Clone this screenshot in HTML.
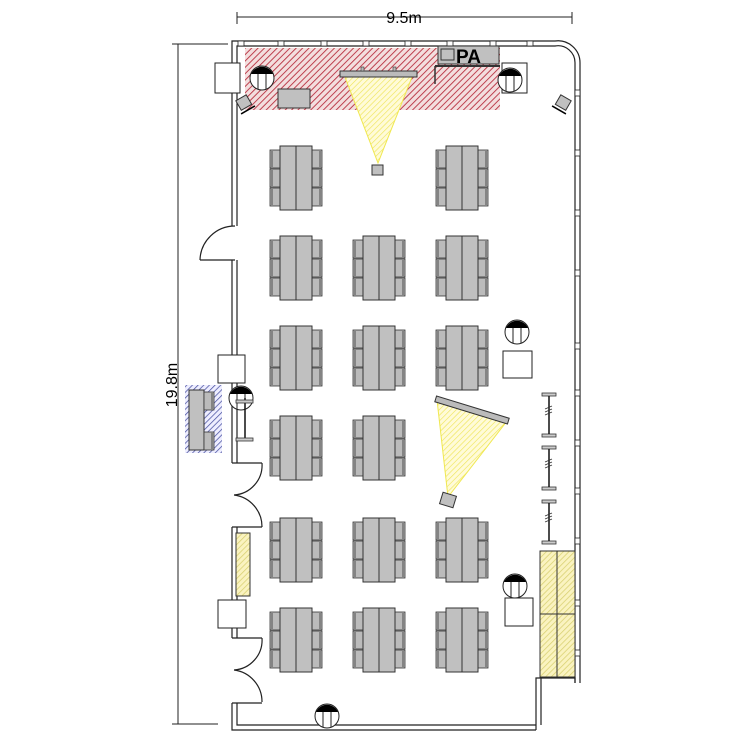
<!DOCTYPE html>
<html><head><meta charset="utf-8"><style>body{margin:0;background:#fff}svg{display:block}</style></head>
<body>
<svg width="750" height="750" viewBox="0 0 750 750" xmlns="http://www.w3.org/2000/svg" font-family="Liberation Sans, sans-serif">
<defs>
<pattern id="red" width="4.5" height="4.5" patternUnits="userSpaceOnUse" patternTransform="rotate(45)"><rect width="4.5" height="4.5" fill="#f3dede"/><line x1="0" y1="0" x2="0" y2="4.5" stroke="#b83040" stroke-width="1.8"/></pattern>
<pattern id="yel" width="4" height="4" patternUnits="userSpaceOnUse" patternTransform="rotate(45)"><rect width="4" height="4" fill="#faf3c0"/><line x1="0" y1="0" x2="0" y2="4" stroke="#d8d070" stroke-width="1.5"/></pattern>
<pattern id="ylite" width="4" height="4" patternUnits="userSpaceOnUse" patternTransform="rotate(45)"><rect width="4" height="4" fill="#fffbd8"/><line x1="0" y1="0" x2="0" y2="4" stroke="#eee450" stroke-width="1.2"/></pattern>
<pattern id="blue" width="4" height="4" patternUnits="userSpaceOnUse" patternTransform="rotate(45)"><rect width="4" height="4" fill="#eef"/><line x1="0" y1="0" x2="0" y2="4" stroke="#4850a0" stroke-width="1.5"/></pattern>
<g id="chairL"><rect x="0" y="0" width="10" height="18" fill="#bbb" stroke="#333" stroke-width="0.8"/><line x1="2" y1="1" x2="2" y2="17" stroke="#333" stroke-width="0.8"/></g>
<g id="chairR"><rect x="0" y="0" width="10" height="18" fill="#bbb" stroke="#333" stroke-width="0.8"/><line x1="8" y1="1" x2="8" y2="17" stroke="#333" stroke-width="0.8"/></g>
<g id="tbl">
<use href="#chairL" x="-10" y="4"/><use href="#chairL" x="-10" y="23"/><use href="#chairL" x="-10" y="42"/>
<use href="#chairR" x="32" y="4"/><use href="#chairR" x="32" y="23"/><use href="#chairR" x="32" y="42"/>
<rect x="0" y="0" width="32" height="64" fill="#c0c0c0" stroke="#333"/><line x1="16" y1="0" x2="16" y2="64" stroke="#333"/>
</g>
<g id="lamp"><circle r="12" fill="#fff" stroke="#222"/><path d="M-11,-4 A12,12 0 0 1 11,-4 Z" fill="#000"/><line x1="-4" y1="-4" x2="-4" y2="11" stroke="#222"/><line x1="4" y1="-4" x2="4" y2="11" stroke="#222"/></g>
<g id="ibeam"><rect x="-7" y="0" width="14" height="3" fill="#ccc" stroke="#333" stroke-width="0.8"/><rect x="-7" y="41" width="14" height="3" fill="#ccc" stroke="#333" stroke-width="0.8"/><line x1="0" y1="3" x2="0" y2="41" stroke="#111" stroke-width="1.5"/><path d="M-4,16 l7,-3 M-4,19 l7,-3 M-4,22 l7,-3" stroke="#333" stroke-width="0.8"/></g>
</defs>

<line x1="237" y1="17" x2="572" y2="17" stroke="#222"/>
<line x1="237" y1="12" x2="237" y2="24" stroke="#222"/><line x1="572" y1="12" x2="572" y2="24" stroke="#222"/>
<text x="404" y="23" font-size="16" text-anchor="middle">9.5m</text>
<line x1="178" y1="44" x2="178" y2="724" stroke="#222"/>
<line x1="172" y1="44" x2="228" y2="44" stroke="#222"/><line x1="172" y1="724" x2="218" y2="724" stroke="#222"/>
<text transform="translate(177,385) rotate(-90)" font-size="16" text-anchor="middle">19.8m</text>

<rect x="245" y="48" width="255" height="62" fill="url(#red)"/>

<g fill="none" stroke="#222" stroke-width="1.2">
<path d="M232,226 V41 H555 A22,22 0 0 1 580,63 V683"/>
<path d="M237,226 V46 H555 A17,17 0 0 1 575,63 V683"/>
<path d="M232,260 V463 M237,260 V463"/>
<path d="M232,527 V638 M237,527 V638"/>
<path d="M232,703 V730 H536 M237,703 V725 H536"/>
<path d="M536,730 V678 H575 V683"/>
<path d="M541,725 V678"/>
</g>
<g fill="#fff" stroke="#222" stroke-width="0.8">
<rect x="238" y="41" width="6" height="5"/><rect x="278" y="41" width="6" height="5"/><rect x="321" y="41" width="6" height="5"/><rect x="363" y="41" width="6" height="5"/><rect x="405" y="41" width="6" height="5"/><rect x="447" y="41" width="6" height="5"/><rect x="490" y="41" width="6" height="5"/><rect x="527" y="41" width="6" height="5"/>
<rect x="575" y="90" width="5" height="6"/><rect x="575" y="150" width="5" height="6"/><rect x="575" y="210" width="5" height="6"/><rect x="575" y="270" width="5" height="6"/><rect x="575" y="343" width="5" height="6"/><rect x="575" y="390" width="5" height="6"/><rect x="575" y="440" width="5" height="6"/><rect x="575" y="488" width="5" height="6"/><rect x="575" y="538" width="5" height="6"/><rect x="575" y="600" width="5" height="6"/><rect x="575" y="650" width="5" height="6"/>
</g>
<g fill="none" stroke="#222" stroke-width="1.2">
<path d="M200,260 H235 M200,260 A35,35 0 0 1 235,226"/>
<path d="M232,463 H262 M262,463 A30,30 0 0 1 234,495 M234,495 A32,32 0 0 1 262,527 M232,527 H262"/>
<path d="M232,638 H262 M262,638 A30,30 0 0 1 234,670 M234,670 A32,32 0 0 1 262,702 M232,703 H262"/>
</g>
<g fill="#fff" stroke="#222">
<rect x="215" y="63" width="25" height="30"/>
<rect x="218" y="355" width="27" height="28"/>
<rect x="218" y="600" width="28" height="28"/>
<rect x="502" y="63" width="25" height="30"/>
</g>
<rect x="236" y="533" width="14" height="63" fill="url(#yel)" stroke="#333"/>

<rect x="185" y="385" width="37" height="68" fill="url(#blue)"/>
<rect x="189" y="390" width="15" height="60" fill="#c0c0c0" stroke="#333"/>
<use href="#chairR" x="204" y="392"/><use href="#chairR" x="204" y="432" />

<rect x="278" y="89" width="32" height="19" fill="#c0c0c0" stroke="#333"/>
<rect x="438" y="46" width="61" height="18" fill="#c0c0c0" stroke="#333"/>
<rect x="441" y="49" width="13" height="11" fill="#c0c0c0" stroke="#333"/>
<text x="456" y="63" font-size="19" font-weight="bold">PA</text>
<line x1="435" y1="66" x2="500" y2="66" stroke="#333" stroke-width="2"/>
<line x1="435" y1="66" x2="435" y2="84" stroke="#333" stroke-width="1.5"/>
<polygon points="345,77 412,77 378,163" fill="url(#ylite)" stroke="#f0e850"/>
<rect x="340" y="71" width="77" height="6" fill="#bbb" stroke="#333"/>
<rect x="361" y="67" width="3" height="4" fill="#bbb" stroke="#333" stroke-width="0.6"/><rect x="393" y="67" width="3" height="4" fill="#bbb" stroke="#333" stroke-width="0.6"/>
<rect x="372" y="165" width="11" height="10" fill="#c0c0c0" stroke="#333"/>

<use href="#lamp" x="262" y="78"/>
<use href="#lamp" x="510" y="80"/>
<use href="#lamp" x="517" y="332"/>
<use href="#lamp" x="515" y="586"/>
<use href="#lamp" x="327" y="716"/>
<use href="#lamp" x="241" y="398"/>

<g transform="translate(244,103) rotate(-30)"><rect x="-6" y="-6" width="12" height="11" fill="#c0c0c0" stroke="#333"/><line x1="-8" y1="8" x2="8" y2="8" stroke="#000" stroke-width="1.5"/></g>
<g transform="translate(563,103) rotate(30)"><rect x="-6" y="-6" width="12" height="11" fill="#c0c0c0" stroke="#333"/><line x1="-8" y1="8" x2="8" y2="8" stroke="#000" stroke-width="1.5"/></g>

<line x1="245" y1="398" x2="245" y2="440" stroke="#111" stroke-width="1.5"/>
<rect x="236" y="438" width="17" height="3" fill="#ccc" stroke="#333" stroke-width="0.8"/>
<rect x="236" y="400" width="17" height="3" fill="#ccc" stroke="#333" stroke-width="0.8"/>

<use href="#tbl" x="280" y="146"/><use href="#tbl" x="446" y="146"/>
<use href="#tbl" x="280" y="236"/><use href="#tbl" x="363" y="236"/><use href="#tbl" x="446" y="236"/>
<use href="#tbl" x="280" y="326"/><use href="#tbl" x="363" y="326"/><use href="#tbl" x="446" y="326"/>
<use href="#tbl" x="280" y="416"/><use href="#tbl" x="363" y="416"/>
<use href="#tbl" x="280" y="518"/><use href="#tbl" x="363" y="518"/><use href="#tbl" x="446" y="518"/>
<use href="#tbl" x="280" y="608"/><use href="#tbl" x="363" y="608"/><use href="#tbl" x="446" y="608"/>

<rect x="503" y="351" width="29" height="27" fill="#fff" stroke="#222"/>
<rect x="505" y="598" width="28" height="28" fill="#fff" stroke="#222"/>

<polygon points="437,400 507,421 448,497" fill="url(#ylite)" stroke="#f0e850"/>
<g transform="translate(472,410) rotate(17)"><rect x="-38" y="-3" width="76" height="6" fill="#bbb" stroke="#333"/></g>
<g transform="translate(448,500) rotate(17)"><rect x="-7" y="-6" width="14" height="12" fill="#c0c0c0" stroke="#333"/></g>

<use href="#ibeam" x="549" y="393"/><use href="#ibeam" x="549" y="446"/><use href="#ibeam" x="549" y="500"/>

<rect x="540" y="551" width="35" height="126" fill="url(#yel)" stroke="#333"/>
<line x1="557" y1="551" x2="557" y2="677" stroke="#333"/>
<line x1="540" y1="614" x2="575" y2="614" stroke="#333"/>
</svg>
</body></html>
